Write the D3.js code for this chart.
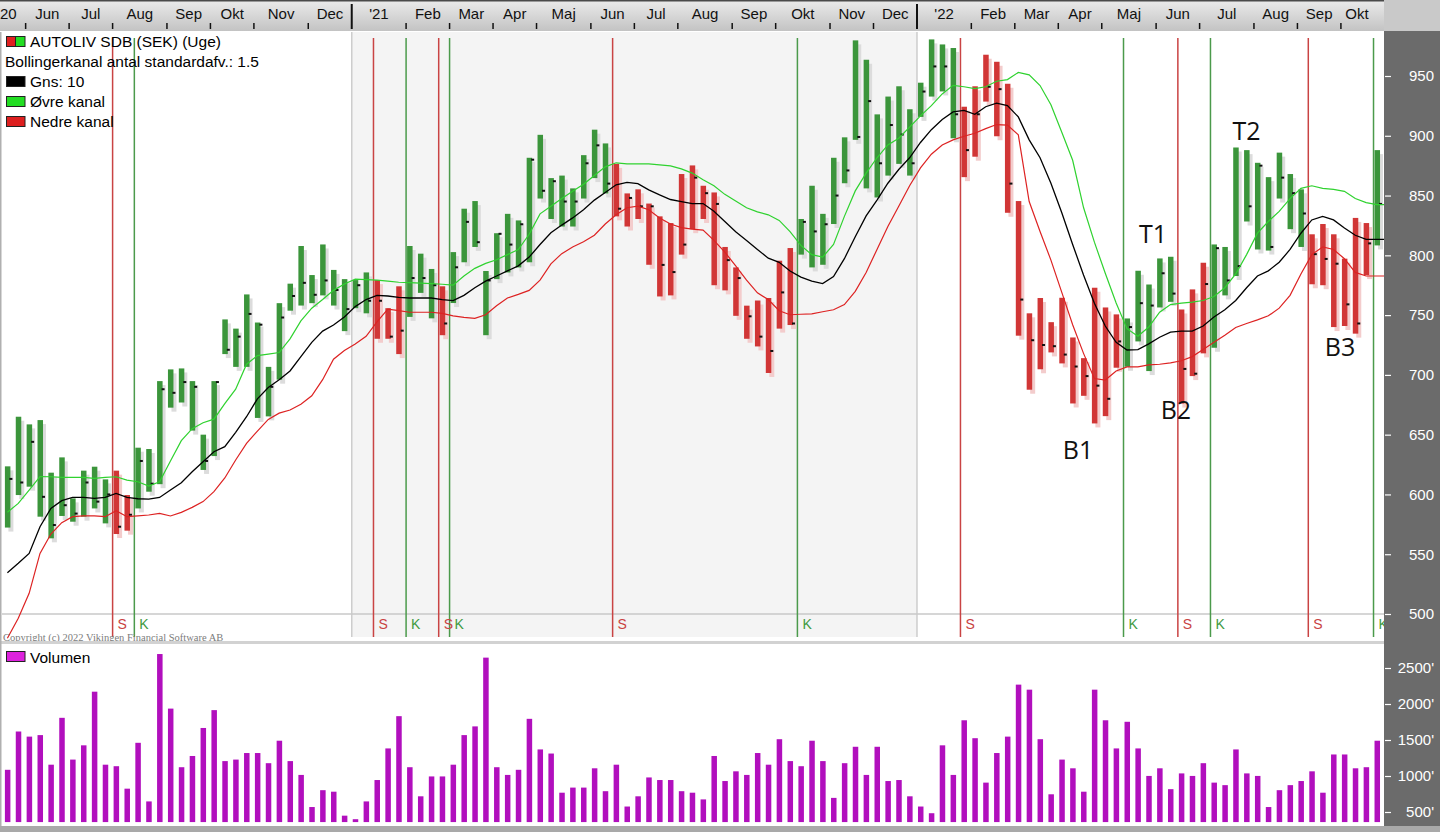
<!DOCTYPE html>
<html>
<head>
<meta charset="utf-8">
<script src="https://d3js.org/d3.v7.min.js"></script>
<style>
  body { margin: 0; background: #fff; }
  svg { display: block; font-family: "Liberation Sans", Arial, sans-serif; }
</style>
</head>
<body>
<svg id="chart" width="1440" height="832"></svg>
<script>
// weekly bars, first week starts Sunday 24 May 2020
var firstWeek = new Date(2020, 4, 24);
var monthNames = ["Jan", "Feb", "Mar", "Apr", "Maj", "Jun", "Jul", "Aug", "Sep", "Okt", "Nov", "Dec"];

var high = [623.5,665,658.6,662.2,618.2,631,596.7,619.9,623.2,612.6,619.9,599.5,639.1,638,694.8,704.6,705.4,694.8,650,694.8,
  746.4,738.7,767.3,743.8,706.7,760,776.3,807.8,783.5,809.1,787.8,780.1,779.3,785.7,779.3,755.8,774.1,807.8,801.4,788.6,
  774.1,802.7,839,845.4,786.9,818.5,834.7,829.2,881.6,900.8,864.6,866.7,856,883.8,905.1,893.6,876.5,851.8,855.2,843.3,
  832.6,827,868,875.2,858.2,852.6,807,789.9,757.9,762.2,764.3,795.5,806.1,830.4,858.2,834.7,881.6,898.7,979.8,963.6,
  917.9,932.8,941.4,922.2,944.4,980.6,976.4,973.4,924.3,941.4,967.8,961.9,943.5,845.4,751.5,764.3,744.1,764.5,731.3,714,
  772.9,756.4,750.6,747.2,787.1,775.6,797.4,798.8,754.7,771.5,793.8,809.1,807,890.2,888,877.4,865.4,885.9,868,855.2,
  817.6,826.2,817.6,797.2,831.3,827,888];
var low = [572.3,599.5,606.5,581.4,563.3,582,577.2,581.4,588.3,575.8,566.9,569.7,588.3,602.3,608.6,672.6,676.9,653.4,620.5,632.1,
  717.4,706.7,706.7,664,665.3,696,753.7,758,760,766.5,758,736.6,755.8,751.5,730.2,730.2,717.4,748.5,768.6,747.3,
  733.2,760.1,794.2,807,733.2,780.1,785.7,789.9,794.2,847.5,830.4,824.1,824.1,847.5,864.6,851.8,832.6,824.1,830.4,792.1,
  765.6,766.5,800.6,821.9,830.4,775,770.7,749.4,730.2,723.8,701.6,738.7,741.7,800.6,789.9,792.1,826.2,860.3,896.6,856,
  848.4,866.7,876.5,866.7,915.8,932.8,937.1,897.9,865.4,882.5,928.6,899.6,835.6,732.8,687.6,704.7,718.8,709.6,676.1,682.5,
  659.4,665.5,706,706.8,728,703.2,756.4,761.1,676,699,718,722.7,766.5,782.7,828.3,804.9,804,847.5,821.9,807,
  775.8,775,740,740.9,734.5,783.5,808.3];
var close = [613,610,644,598,574.4,591,584,610,594,600,573,583,628,609,688,685,694,690,628,694,
  721,732,751,742,690,748,766,777,767,779,771,755,775,762,762,732,737,781,781,775,
  743,790,828,811,779,818,809,826,880,854,862,845,845,877,892,860,839,848,841,841,
  792,786,809,865,852,843,796,781,749,732,720,769,743,828,820,826,850,871,899,929,
  877,909,901,877,937,958,958,918,888,918,941,939,860,763,729,725,724,717,707,699,
  691,680,728,740,760,758,785,768,705,701,776,806,779,791,841,875,807,865,852,835,
  801,797,793,759,743,810,843];

// Bollinger channel (10 weeks, 1.5 std)
var average = [534.6,542.4,550.7,573,588.3,594.8,597.5,597.5,596.7,597.5,600.9,597.5,596.4,596.1,597.5,603.7,609.8,619,627.4,635.7,
  640,652,665,680,689.5,696,703.3,715.3,727.2,736.6,741.7,748.5,757.1,763,766.5,766,764.8,764.3,764.3,764.3,
  763,762.2,766.5,772.9,778.4,782.7,787,791.2,798.5,809.1,818.9,825.3,831.3,838.1,846.2,852.6,859,861,860,854.8,
  850.5,846.7,845,843.3,843.3,836.8,828.3,819.8,812.5,804.9,797.6,794.2,786.9,781.8,778.4,776.3,782.2,797.2,815.5,833,
  846.2,860.3,871.8,881.6,894.4,905.1,913.6,920,921.3,917.9,924.3,927.3,925.2,915.8,896.6,881.6,860.3,835.6,809.1,783.5,
  760,740.9,727.2,720.8,721.2,725.9,731.5,735.7,736.6,736.6,740.9,748.5,754.5,762.2,772.9,782.7,787,794.2,804.9,818.5,
  829.6,832.6,829.6,822.8,816.8,813.4,813.4];
var upper = [585.1,592.5,603.7,615,614.8,614.3,614.3,614.3,613.4,614.3,614.8,612,610.6,607,610.6,628,645,655,660,663,
  676,688,708.9,716.1,717.4,718.7,730.2,745.1,755.8,763,770.7,776,780.1,779.7,779.3,778.4,777.5,777.1,776.7,776.3,
  775.8,775,782.7,789.1,793.3,796.3,800.6,804.9,817.6,834.7,841.1,847.5,853.5,859.5,866.7,874,877.4,876.5,876.5,876.5,
  875.7,874.8,872.3,868.8,863.3,858.2,851,845.4,839.8,836.4,833.9,829.2,819.8,808.3,800.6,798.5,809.1,832.6,853.9,868.8,
  881.6,892.3,897.9,907.2,916.6,925.2,935,942.2,941,939.5,941,945.6,947,953,951,942,926,903,879.5,840,
  811,785,760.1,738.7,732.3,740,752.4,758.8,760.1,760.9,762.2,765.6,772.9,784.4,800.6,818.5,828.3,836.8,847.5,856,
  858.2,856,855.2,853.5,847.5,844.1,842.4];
var lower = [479.7,496.4,517.3,550.7,566.9,576.4,581.4,582,582,581.4,586.4,581.4,582,582.8,584.2,582,585,589.2,594,602.3,
  613.8,628.8,642.7,653,662.8,668,670.6,675.5,682.5,696,713.1,720.4,725.9,732.3,744.3,755,753.7,752.4,752.4,752.4,
  751.5,749.4,748.1,747.3,750.3,757.9,764.3,767.3,770.7,779.3,792.9,801.4,807,811.3,816.8,826.2,833.9,839.8,841.1,838.1,
  831.3,826.2,823.2,821.9,821.1,812.5,802.7,791.2,779.3,768.6,763,753.7,750.3,750.7,751.1,752.8,754.5,758.8,769.9,785.7,
  804.9,824.1,841.1,858.2,873.1,884.6,892.3,896.6,899.6,902.1,906,909.4,908.9,900.8,845,820,796,769,742,718,
  697,695.7,703.3,706.7,706.7,708.4,708.9,710.1,711.8,715.3,721.2,727.2,733.2,739.6,743,746,749.4,755.8,766.5,784.4,
  800.6,807,804.9,797.2,785.7,782.7,782.7];

// volume in thousands
var volume = [1086,1618,1547,1568,1157,1808,1228,1426,2171,1157,1136,824,1461,647,2694,1936,1122,1278,1667,1915,
  1207,1228,1319,1319,1178,1490,1207,1015,569,803,782,449,400,647,944,1383,1831,1122,718,994,
  994,1157,1568,1689,2644,1122,1015,1086,1794,1369,1312,768,839,839,1107,789,1157,576,718,980,
  944,944,789,768,675,1278,930,1065,1015,1319,1157,1511,1207,1136,1490,1207,696,1178,1406,1015,
  1406,930,944,718,576,483,1426,1015,1774,1525,908,1319,1547,2269,2199,1511,746,1228,1107,782,
  2199,1774,1383,1753,1383,1001,1107,817,1036,1001,1178,908,873,1369,1036,1001,569,803,873,930,
  1065,768,1299,1299,1107,1122,1490];

// buy (K) / sell (S) signals by bar index
var signals = [
  {i: 10, type: "S"}, {i: 12, type: "K"}, {i: 34, type: "S"}, {i: 37, type: "K"},
  {i: 40, type: "S"}, {i: 41, type: "K"}, {i: 56, type: "S"}, {i: 73, type: "K"},
  {i: 88, type: "S"}, {i: 103, type: "K"}, {i: 108, type: "S"}, {i: 111, type: "K"},
  {i: 120, type: "S"}, {i: 126, type: "K"}
];

var notes = [
  {text: "T1", i: 105.4, p: 818}, {text: "T2", i: 114, p: 904},
  {text: "B1", i: 98.5, p: 637}, {text: "B2", i: 107.5, p: 671}, {text: "B3", i: 122.6, p: 723}
];

var priceTicks = [500, 550, 600, 650, 700, 750, 800, 850, 900, 950];
var volumeTicks = [500, 1000, 1500, 2000, 2500];

var GREEN = "#3b953b", RED = "#d13636";

var svg = d3.select("#chart");
var n = close.length;
var weeks = d3.range(n).map(function(i) { return d3.timeWeek.offset(firstWeek, i); });

var x = d3.scaleLinear().domain([0, n - 1]).range([7.4, 7.4 + (n - 1) * 10.87]);
var y = d3.scaleLinear().domain([500, 950]).range([614, 76]);
var yv = d3.scaleLinear().domain([500, 2500]).range([812, 668]);
function edge(i) { return x(i) - 3.5; }

var plotRight = 1384, pTop = 32, pBottom = 637, vTop = 645, vBottom = 826;

// colour of each bar from the last signal
var state = d3.range(n).map(function(i) {
  var s = "K";
  signals.forEach(function(d) { if (d.i <= i) s = d.type; });
  return s;
});

var defs = svg.append("defs");
defs.append("clipPath").attr("id", "pclip").append("rect")
  .attr("x", 2).attr("y", pTop).attr("width", plotRight - 2).attr("height", pBottom - pTop + 5);
var grad = defs.append("linearGradient").attr("id", "band").attr("x1", 0).attr("y1", 0).attr("x2", 0).attr("y2", 1);
grad.append("stop").attr("offset", "0%").attr("stop-color", "#ebebeb");
grad.append("stop").attr("offset", "100%").attr("stop-color", "#c3c3c3");

svg.append("rect").attr("width", 1440).attr("height", 832).attr("fill", "#fff");

// ---- price panel ----
var price = svg.append("g").attr("clip-path", "url(#pclip)");
price.append("rect").attr("x", edge(32)).attr("y", pTop)
  .attr("width", edge(84) - edge(32)).attr("height", pBottom - pTop).attr("fill", "#f4f4f4");
price.selectAll(".yr").data([32, 84]).enter().append("line")
  .attr("x1", edge).attr("x2", edge).attr("y1", pTop).attr("y2", pBottom)
  .attr("stroke", "#cdcdcd").attr("stroke-width", 1.5);
price.append("line").attr("x1", 2).attr("x2", plotRight).attr("y1", y(500)).attr("y2", y(500))
  .attr("stroke", "#c8c8c8").attr("stroke-width", 1.5);

price.selectAll(".sig").data(signals).enter().append("line")
  .attr("x1", function(d) { return edge(d.i); }).attr("x2", function(d) { return edge(d.i); })
  .attr("y1", pTop + 6).attr("y2", pBottom)
  .attr("stroke", function(d) { return d.type == "S" ? "#c94343" : "#4b9a4b"; })
  .attr("stroke-width", 1.5);

price.selectAll(".siglab").data(signals).enter().append("text")
  .attr("x", function(d) { return edge(d.i) + 5; }).attr("y", 628.5)
  .attr("font-size", 14)
  .attr("fill", function(d) { return d.type == "S" ? "#c94343" : "#3f9a3f"; })
  .text(function(d) { return d.type; });

var idx = d3.range(n);
price.selectAll(".shadow").data(idx).enter().append("rect")
  .attr("x", function(i) { return x(i) + 1; })
  .attr("y", function(i) { return y(high[i]) + 4; })
  .attr("width", 5)
  .attr("height", function(i) { return y(low[i]) - y(high[i]); })
  .attr("fill", function(i) { return state[i] == "S" ? "#f3cccc" : "#dcdcdc"; });

price.selectAll(".bar").data(idx).enter().append("rect")
  .attr("x", function(i) { return x(i) - 2.5; })
  .attr("y", function(i) { return y(high[i]); })
  .attr("width", 5.5)
  .attr("height", function(i) { return y(low[i]) - y(high[i]); })
  .attr("fill", function(i) { return state[i] == "S" ? RED : GREEN; });

price.selectAll(".cl").data(idx).enter().append("rect")
  .attr("x", function(i) { return x(i) + 2; })
  .attr("y", function(i) { return y(close[i]) - 1; })
  .attr("width", 3).attr("height", 2).attr("fill", "#111");

function band(values, color, w) {
  var pts = values.map(function(v, i) { return [x(i), y(v)]; });
  pts.push([plotRight, y(values[n - 1])]);
  price.append("path").datum(pts)
    .attr("d", d3.line())
    .attr("fill", "none").attr("stroke", color).attr("stroke-width", w);
}
band(lower, "#dd2222", 1.2);
band(upper, "#2fd22f", 1.2);
band(average, "#000", 1.3);

price.append("text").attr("x", 3).attr("y", 640.5)
  .attr("font-family", "'Liberation Serif', 'Times New Roman', serif")
  .attr("font-size", 10.5).attr("fill", "#7c7c7c")
  .text("Copyright (c) 2022 Vikingen Financial Software AB");

// legend
var legend = [
  {label: "Bollingerkanal antal standardafv.: 1.5", color: null},
  {label: "Gns: 10", color: "#000"},
  {label: "Øvre kanal", color: "#22dd22"},
  {label: "Nedre kanal", color: "#dd1f1f"}
];
var lg = svg.append("g").attr("font-size", 15.5).attr("fill", "#000");
lg.append("rect").attr("x", 6.5).attr("y", 36.5).attr("width", 9).attr("height", 10).attr("fill", "#e02020").attr("stroke", "#222");
lg.append("rect").attr("x", 15.5).attr("y", 36.5).attr("width", 9.5).attr("height", 10).attr("fill", "#22dd22").attr("stroke", "#222");
lg.append("text").attr("x", 30).attr("y", 47).text("AUTOLIV SDB (SEK) (Uge)");
legend.forEach(function(d, k) {
  var yy = 67 + k * 20;
  if (d.color) {
    lg.append("rect").attr("x", 6.5).attr("y", yy - 10.5).attr("width", 18.5).attr("height", 10)
      .attr("fill", d.color).attr("stroke", "#222");
    lg.append("text").attr("x", 30).attr("y", yy).text(d.label);
  } else {
    lg.append("text").attr("x", 5).attr("y", yy).text(d.label);
  }
});

svg.selectAll(".note").data(notes).enter().append("text")
  .attr("x", function(d) { return x(d.i); })
  .attr("y", function(d) { return y(d.p) + 9; })
  .attr("text-anchor", "middle")
  .attr("font-family", "'Open Sans', 'Noto Sans', sans-serif")
  .attr("font-size", 25).attr("fill", "#111")
  .text(function(d) { return d.text; });

// ---- separator and volume panel ----
svg.append("rect").attr("x", 0).attr("y", 641).attr("width", plotRight).attr("height", vTop - 641).attr("fill", "#fff");
svg.append("rect").attr("x", 0).attr("y", 641).attr("width", plotRight).attr("height", 3).attr("fill", "#d2d2d2");

svg.selectAll(".vol").data(idx).enter().append("rect")
  .attr("x", function(i) { return x(i) - 2.5; })
  .attr("y", function(i) { return yv(volume[i]); })
  .attr("width", 5.5)
  .attr("height", function(i) { return yv(360) - yv(volume[i]); })
  .attr("fill", "#b10fbd");

svg.append("rect").attr("x", 6.5).attr("y", 651.5).attr("width", 18.5).attr("height", 10)
  .attr("fill", "#dd22dd").attr("stroke", "#222");
svg.append("text").attr("x", 30).attr("y", 663).attr("font-size", 15.5).text("Volumen");

svg.append("rect").attr("x", 0).attr("y", vBottom).attr("width", 1440).attr("height", 832 - vBottom).attr("fill", "#a9a9a9");
svg.append("rect").attr("x", 0).attr("y", pTop).attr("width", 1.5).attr("height", vBottom - pTop).attr("fill", "#b0b0b0");

// ---- top time axis ----
svg.append("rect").attr("x", 0).attr("y", 0).attr("width", 1440).attr("height", 31).attr("fill", "url(#band)");
svg.append("rect").attr("x", 0).attr("y", 0).attr("width", 1440).attr("height", 1.5).attr("fill", "#4a4a4a");

var ticks = idx.filter(function(i) { return i > 0 && weeks[i].getMonth() != weeks[i - 1].getMonth(); });
var axisG = svg.append("g");
axisG.selectAll(".mt").data(ticks).enter().append("line")
  .attr("x1", edge).attr("x2", edge)
  .attr("y1", function(i) { return weeks[i].getMonth() == 0 ? 4 : 23; })
  .attr("y2", 29)
  .attr("stroke", "#111")
  .attr("stroke-width", function(i) { return weeks[i].getMonth() == 0 ? 2 : 1.5; });
axisG.selectAll(".ml").data(ticks).enter().append("text")
  .attr("x", function(i, k) {
    var a = edge(i);
    var b = k + 1 < ticks.length ? edge(ticks[k + 1]) : a + 32;
    return (a + b) / 2;
  })
  .attr("y", 19).attr("text-anchor", "middle").attr("font-size", 15).attr("fill", "#111")
  .text(function(i) {
    var m = weeks[i].getMonth();
    return m == 0 ? "'" + String(weeks[i].getFullYear()).slice(2) : monthNames[m];
  });
axisG.append("text").attr("x", 0).attr("y", 19).attr("font-size", 15).attr("fill", "#111")
  .text(String(weeks[0].getFullYear()).slice(2));

// ---- right value axes ----
svg.append("rect").attr("x", plotRight).attr("y", 0).attr("width", 1440 - plotRight).attr("height", 31).attr("fill", "#c9c9c9");
svg.append("rect").attr("x", plotRight).attr("y", 31).attr("width", 1440 - plotRight).attr("height", vBottom - 31).attr("fill", "#6b6b6b");

var pAxis = svg.append("g").attr("transform", "translate(" + (plotRight + 1) + ",0)")
  .call(d3.axisRight(y).tickValues(priceTicks).tickSize(6).tickFormat(d3.format("d")));
var vAxis = svg.append("g").attr("transform", "translate(" + (plotRight + 1) + ",0)")
  .call(d3.axisRight(yv).tickValues(volumeTicks).tickSize(6).tickFormat(function(d) { return d + "'"; }));
[pAxis, vAxis].forEach(function(g) {
  g.select(".domain").remove();
  g.selectAll("line").attr("stroke", "#fff").attr("stroke-width", 1.2);
  g.selectAll("text").attr("fill", "#fff").attr("font-size", 15)
    .attr("font-family", "'Liberation Sans', Arial, sans-serif")
    .attr("text-anchor", "end").attr("x", 49);
});
</script>
</body>
</html>
